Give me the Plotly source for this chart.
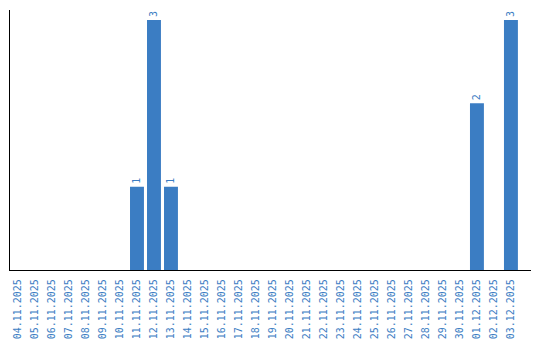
import plotly.graph_objects as go

dates = ["04.11.2025","05.11.2025","06.11.2025","07.11.2025","08.11.2025","09.11.2025",
         "10.11.2025","11.11.2025","12.11.2025","13.11.2025","14.11.2025","15.11.2025",
         "16.11.2025","17.11.2025","18.11.2025","19.11.2025","20.11.2025","21.11.2025",
         "22.11.2025","23.11.2025","24.11.2025","25.11.2025","26.11.2025","27.11.2025",
         "28.11.2025","29.11.2025","30.11.2025","01.12.2025","02.12.2025","03.12.2025"]
counts = [0,0,0,0,0,0,0,1,3,1,0,0,0,0,0,0,0,0,0,0,0,0,0,0,0,0,0,2,0,3]

blue = "#3b7dc3"
labels = [str(v) if v > 0 else "" for v in counts]

fig = go.Figure(go.Bar(
    x=dates, y=counts, marker_color=blue, marker_line_width=0,
    text=labels, textposition="outside", textangle=-90,
    textfont=dict(color=blue, size=10, family="DejaVu Sans Mono"),
    cliponaxis=False, constraintext="none",
))
fig.update_layout(
    width=540, height=340, margin=dict(l=10, r=9, t=10, b=70),
    paper_bgcolor="white", plot_bgcolor="white", showlegend=False,
    bargap=0.18,
    xaxis=dict(type="category", range=[-0.47, 30.18], showline=True, linecolor="black",
               linewidth=1.2, ticks="", tickangle=-90, showgrid=False, automargin=False,
               ticklabelstandoff=4,
               tickfont=dict(color=blue, size=10, family="DejaVu Sans Mono")),
    yaxis=dict(range=[0, 3.12], showline=True, linecolor="black", linewidth=1.2,
               showticklabels=False, ticks="", showgrid=False, zeroline=False,
               automargin=False),
)
fig.write_html("out.html")
